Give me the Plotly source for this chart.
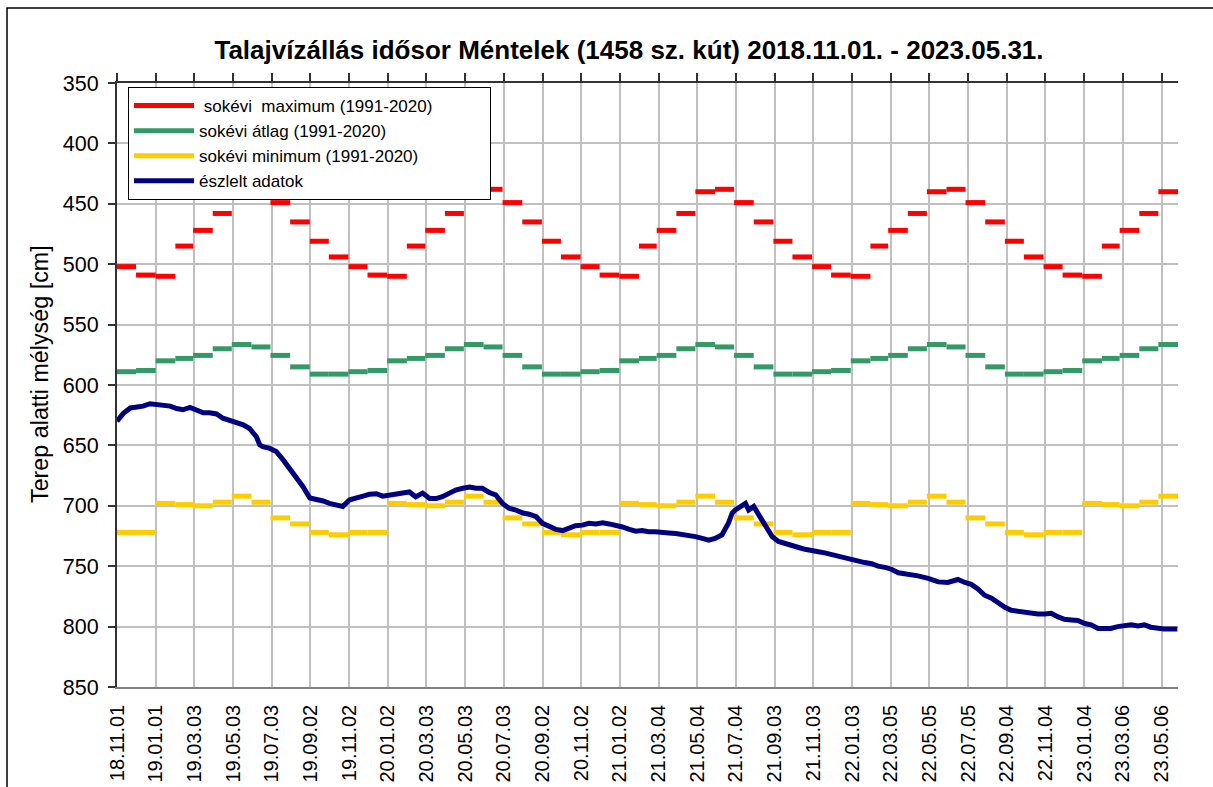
import pandas as pd
import plotly.graph_objects as go

# ---------------- data ----------------
title_text = "Talajvízállás idősor Méntelek (1458 sz. kút) 2018.11.01. - 2023.05.31."
y_title = "Terep alatti mélység [cm]"

period_start = "2018-11"
period_end = "2023-05"

# long-term monthly statistics, Jan..Dec (cm below surface)
max_monthly = [510, 485, 472, 458, 440, 438, 449, 465, 481, 494, 502, 509]
avg_monthly = [580, 578, 575.5, 570, 566.5, 568.5, 575.5, 585, 591, 591, 589, 588]
min_monthly = [698, 699, 700, 697, 692, 697, 710, 715, 722, 724, 722, 722]

series_names = [
    "\u00a0sokévi\u00a0 maximum (1991-2020)" + "\u00a0" * 11,
    "sokévi átlag (1991-2020)",
    "sokévi minimum (1991-2020)",
    "észlelt adatok",
]

obs_dates = [
    "2018-11-01", "2018-11-11", "2018-11-22", "2018-12-02", "2018-12-12", "2018-12-23",
    "2019-01-03", "2019-01-13", "2019-01-24", "2019-02-03", "2019-02-13", "2019-02-24",
    "2019-03-07", "2019-03-17", "2019-03-27", "2019-04-07", "2019-04-17", "2019-04-28",
    "2019-05-08", "2019-05-19", "2019-05-29", "2019-06-09", "2019-06-14", "2019-06-19",
    "2019-06-30", "2019-07-10", "2019-07-21", "2019-07-31", "2019-08-11", "2019-08-21",
    "2019-09-01", "2019-09-11", "2019-09-22", "2019-10-02", "2019-10-13", "2019-10-23",
    "2019-11-03", "2019-11-13", "2019-11-24", "2019-12-04", "2019-12-15", "2019-12-25",
    "2020-01-05", "2020-01-15", "2020-01-25", "2020-02-05", "2020-02-15", "2020-02-26",
    "2020-03-08", "2020-03-18", "2020-03-28", "2020-04-08", "2020-04-18", "2020-04-29",
    "2020-05-10", "2020-05-20", "2020-05-30", "2020-06-10", "2020-06-20", "2020-07-01",
    "2020-07-11", "2020-07-22", "2020-08-02", "2020-08-12", "2020-08-23", "2020-09-02",
    "2020-09-13", "2020-09-23", "2020-10-04", "2020-10-14", "2020-10-24", "2020-11-04",
    "2020-11-14", "2020-11-25", "2020-12-06", "2020-12-16", "2020-12-27", "2021-01-06",
    "2021-01-17", "2021-01-27", "2021-02-06", "2021-02-16", "2021-02-27", "2021-03-10",
    "2021-03-20", "2021-03-31", "2021-04-10", "2021-04-21", "2021-05-01", "2021-05-12",
    "2021-05-22", "2021-06-01", "2021-06-12", "2021-06-22", "2021-06-28", "2021-07-03",
    "2021-07-14", "2021-07-19", "2021-07-24", "2021-08-01", "2021-08-09", "2021-08-19",
    "2021-08-30", "2021-09-09", "2021-09-20", "2021-09-30", "2021-10-11", "2021-10-21",
    "2021-10-31", "2021-11-11", "2021-11-21", "2021-12-02", "2021-12-12", "2021-12-23",
    "2022-01-02", "2022-01-13", "2022-01-23", "2022-02-03", "2022-02-13", "2022-02-24",
    "2022-03-06", "2022-03-17", "2022-04-02", "2022-04-17", "2022-05-03", "2022-05-19",
    "2022-06-03", "2022-06-14", "2022-06-19", "2022-06-30", "2022-07-10", "2022-07-21",
    "2022-07-31", "2022-08-11", "2022-08-21", "2022-09-01", "2022-09-11", "2022-09-22",
    "2022-10-02", "2022-10-12", "2022-10-23", "2022-11-03", "2022-11-13", "2022-11-24",
    "2022-12-04", "2022-12-15", "2022-12-25", "2023-01-05", "2023-01-15", "2023-01-26",
    "2023-02-05", "2023-02-15", "2023-02-26", "2023-03-09", "2023-03-19", "2023-03-30",
    "2023-04-09", "2023-04-19", "2023-04-30", "2023-05-10", "2023-05-21", "2023-05-31",
]
obs_depth = [
    630, 623.5, 619, 618.5, 617.5, 615.5,
    616.5, 616.5, 617.5, 619.5, 620.5, 618.5,
    621, 623, 623, 624, 627.5, 629.5,
    631.5, 633, 636, 643, 649.5, 651,
    652.5, 655, 662, 669, 676, 684,
    693.5, 694.5, 696, 698, 699.5, 700.5,
    695, 694, 692, 690.5, 690, 692,
    691, 690, 689.5, 688.5, 692.5, 689.5,
    694, 694, 692.5, 689.5, 687, 685.5,
    684.5, 685.5, 685.5, 689, 691, 698,
    702, 703.5, 706, 707, 709, 714.5,
    717.5, 719.5, 720.5, 718, 716.5, 716,
    714.5, 715, 714, 715, 716, 717.5,
    719.5, 721, 720.5, 721.5, 721.5, 722.5,
    722.5, 723, 723.5, 724, 725.5, 727,
    728.5, 727, 724, 714.5, 706, 703.5,
    699.5, 698, 703.5, 700.5, 707.5, 716,
    725.5, 729.5, 731.5, 733.5, 734.5, 736,
    736.5, 738, 739, 740.5, 742, 743.5,
    745, 746.5, 747, 748, 750, 751,
    752.5, 755.5, 756.5, 758, 760, 763,
    763.5, 762, 761, 763.5, 765, 769,
    774, 776.5, 780.5, 784, 786.5, 787.5,
    787.5, 789, 789.5, 789.5, 789, 792,
    794, 794.5, 795, 797.5, 798.5, 801.5,
    801.5, 801.5, 800, 799.5, 798.5, 799.5,
    798.5, 800.5, 801.5, 802, 802, 802,
]

tick_dates = [
    "2018-11-01", "2019-01-01", "2019-03-03", "2019-05-03", "2019-07-03", "2019-09-02",
    "2019-11-02", "2020-01-02", "2020-03-03", "2020-05-03", "2020-07-03", "2020-09-02",
    "2020-11-02", "2021-01-02", "2021-03-04", "2021-05-04", "2021-07-04", "2021-09-03",
    "2021-11-03", "2022-01-03", "2022-03-05", "2022-05-05", "2022-07-05", "2022-09-04",
    "2022-11-04", "2023-01-04", "2023-03-06", "2023-05-06",
]
tick_text = [
    "18.11.01", "19.01.01", "19.03.03", "19.05.03", "19.07.03", "19.09.02",
    "19.11.02", "20.01.02", "20.03.03", "20.05.03", "20.07.03", "20.09.02",
    "20.11.02", "21.01.02", "21.03.04", "21.05.04", "21.07.04", "21.09.03",
    "21.11.03", "22.01.03", "22.03.05", "22.05.05", "22.07.05", "22.09.04",
    "22.11.04", "23.01.04", "23.03.06", "23.05.06",
]
y_ticks = [350, 400, 450, 500, 550, 600, 650, 700, 750, 800, 850]
x_range = ["2018-11-01", "2023-06-01"]

# ---------------- build monthly step segments ----------------
months = pd.period_range(period_start, period_end, freq="M")


def month_segments(monthly):
    xs, ys = [], []
    for p in months:
        v = monthly[p.month - 1]
        xs += [p.start_time.strftime("%Y-%m-%d"),
               (p + 1).start_time.strftime("%Y-%m-%d"), None]
        ys += [v, v, None]
    return xs, ys


FONT = "Liberation Sans, Arial, sans-serif"
colors = ["#FF0000", "#339966", "#FFCC00", "#000080"]

fig = go.Figure()
for name, monthly, col in zip(series_names[:3], [max_monthly, avg_monthly, min_monthly], colors[:3]):
    xs, ys = month_segments(monthly)
    fig.add_trace(go.Scatter(x=xs, y=ys, mode="lines", name=name,
                             line=dict(color=col, width=5), connectgaps=False,
                             hoverinfo="skip"))

# observed series on the top (tick-mark) axis, which shares the same date range
fig.add_trace(go.Scatter(x=obs_dates, y=obs_depth, mode="lines", name=series_names[3],
                         line=dict(color=colors[3], width=5), xaxis="x2"))

fig.update_layout(
    width=1213, height=787,
    margin=dict(l=117, r=35, t=83, b=100, autoexpand=False),
    paper_bgcolor="white", plot_bgcolor="white",
    font=dict(family=FONT, color="black"),
    title=dict(text="<b>" + title_text + "</b>", x=629 / 1213, xanchor="center",
               y=1 - 50 / 787, yanchor="middle", yref="container",
               font=dict(size=26, family=FONT, color="black")),
    showlegend=True,
    legend=dict(x=(128 - 117) / 1061, y=1 - (87 - 83) / 604, xanchor="left", yanchor="top",
                bgcolor="white", bordercolor="black", borderwidth=1,
                font=dict(size=17, family=FONT), itemwidth=60,
                tracegroupgap=0),
    xaxis=dict(type="date", range=x_range, tickmode="array",
               tickvals=tick_dates, ticktext=tick_text, tickangle=-90,
               tickfont=dict(size=20, family=FONT), ticks="",
               showgrid=True, gridcolor="#C0C0C0", gridwidth=1.5,
               showline=True, linecolor="#808080", linewidth=1.5,
               zeroline=False, ticklabelstandoff=8, automargin=False),
    xaxis2=dict(type="date", range=x_range, tickmode="array",
                tickvals=tick_dates, overlaying="x", side="top", anchor="y",
                showticklabels=False, ticks="outside", ticklen=8, tickwidth=1.5,
                tickcolor="#333333", showgrid=False, showline=True,
                linecolor="#333333", linewidth=1.5, zeroline=False, automargin=False),
    yaxis=dict(range=[850, 350], tickmode="array", tickvals=y_ticks,
               tickfont=dict(size=21.5, family=FONT), ticks="outside", ticklen=7,
               tickwidth=1.5, tickcolor="#333333",
               showgrid=True, gridcolor="#C0C0C0", gridwidth=1.5,
               showline=True, linecolor="#333333", linewidth=2,
               zeroline=False, ticklabelstandoff=5, automargin=False),
    yaxis2=dict(range=[850, 350], overlaying="y", side="right", anchor="x",
                showticklabels=False, ticks="", showgrid=False, showline=True,
                linecolor="#808080", linewidth=1.5, zeroline=False, automargin=False),
)

fig.add_annotation(text=y_title, textangle=-90, xref="paper", yref="paper",
                   x=(40 - 117) / 1061, y=(687 - 374) / 604, showarrow=False,
                   xanchor="center", yanchor="middle",
                   font=dict(size=23.3, family=FONT, color="black"))

# outer chart border
fig.add_shape(type="rect", xref="paper", yref="paper",
              x0=(7 - 117) / 1061, x1=(1240 - 117) / 1061,
              y0=(687 - 820) / 604, y1=(687 - 8) / 604,
              line=dict(color="black", width=1.5), fillcolor="rgba(0,0,0,0)",
              layer="below")

fig.write_html("out.html", config={"displayModeBar": False},
               post_script="document.body.style.margin='0';document.body.style.overflow='hidden';")
